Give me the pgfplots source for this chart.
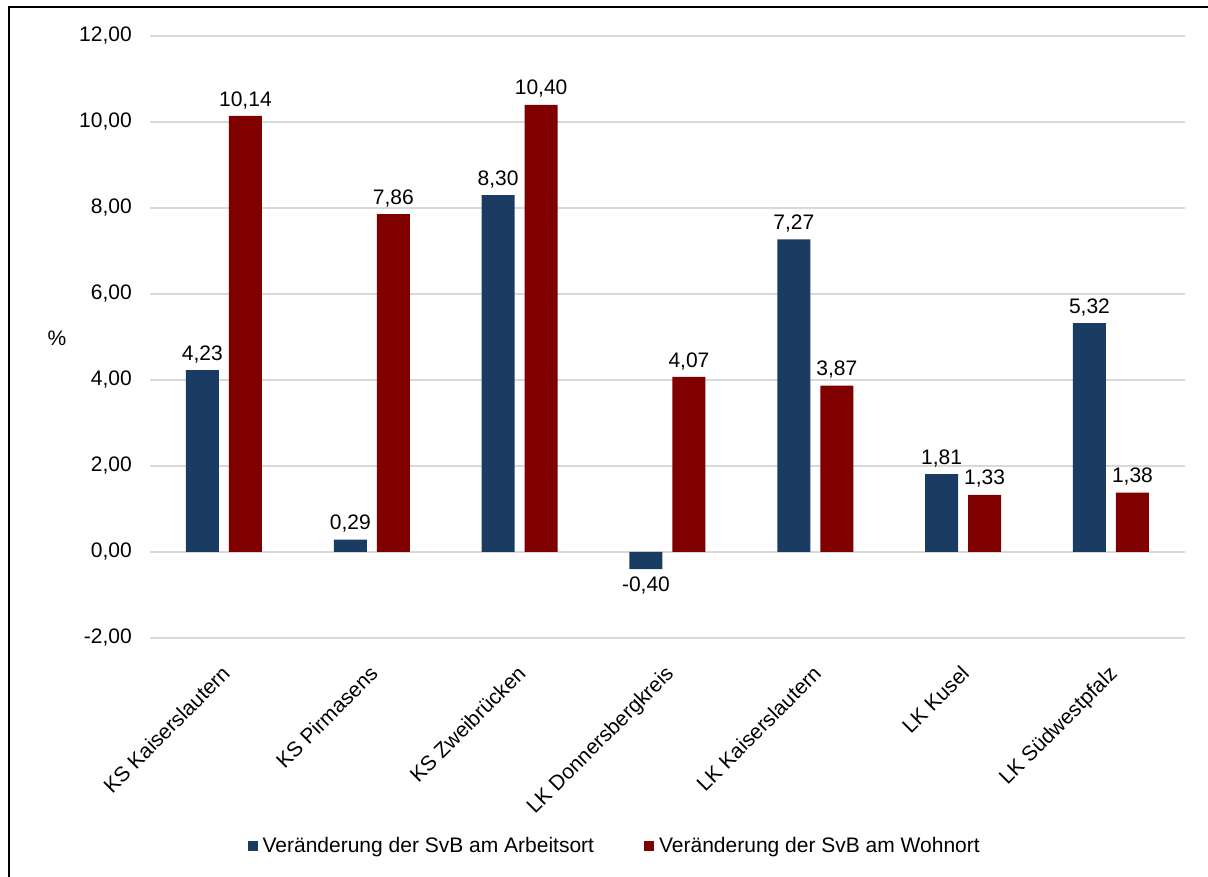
\documentclass[border=0pt]{standalone}
\usepackage{pgfplots}
\pgfplotsset{compat=1.18}
\usepackage{fontspec}
\setmainfont{Liberation Sans}
\definecolor{svbblue}{HTML}{1A3C63}
\definecolor{svbred}{HTML}{800000}
\definecolor{gridgray}{HTML}{D9D9D9}
\begin{document}
\fontsize{21}{25}\selectfont
\begin{tikzpicture}
\useasboundingbox (-150pt,-239pt) rectangle (1058pt,638pt);
\draw[line width=1.5pt] (-141pt,-239pt) -- (-141pt,631pt) -- (1058pt,631pt);
\begin{axis}[
  at={(0pt,0pt)}, anchor=south west,
  scale only axis,
  width=1035pt, height=602pt,
  ybar, bar width=33pt,
  xmin=-0.5, xmax=6.5,
  ymin=-2, ymax=12,
  ytick={-2,0,...,12},
  xtick={0,...,6},
  xticklabels={KS Kaiserslautern,KS Pirmasens,KS Zweibrücken,LK Donnersbergkreis,LK Kaiserslautern,LK Kusel,LK Südwestpfalz},
  xticklabel style={rotate=45, anchor=north east, yshift=-9pt, xshift=-14pt, font=\fontsize{21}{25}\selectfont},
  axis line style={draw=none},
  major tick length=0pt,
  ymajorgrids, grid style={gridgray, line width=1.3pt},
  /pgf/number format/assume math mode=true,
  yticklabel={\pgfmathprintnumber[fixed,fixed zerofill,precision=2,use comma]{\tick}},
  yticklabel style={xshift=-11pt, font=\fontsize{21}{25}\selectfont},
  ylabel={\%}, ylabel style={rotate=-90, at={(-93pt,300pt)}, anchor=center, font=\fontsize{21}{25}\selectfont},
  nodes near coords,
  nodes near coords style={font=\fontsize{21}{25}\selectfont, /pgf/number format/.cd, fixed, fixed zerofill, precision=2, use comma, assume math mode=true},
  legend columns=2,
  legend style={draw=none, at={(0.449,-0.3455)}, anchor=center, font=\fontsize{21}{25}\selectfont, /tikz/every even column/.append style={column sep=48pt}},
  legend image code/.code={\fill[#1] (0pt,-5pt) rectangle (10pt,5pt); \path (13pt,0pt);},
]
\addplot[fill=svbblue, draw=none, bar shift=-21.5pt] coordinates {
  (0,4.23) (1,0.29) (2,8.30) (3,-0.40) (4,7.27) (5,1.81) (6,5.32)
};
\addplot[fill=svbred, draw=none, bar shift=21.5pt] coordinates {
  (0,10.14) (1,7.86) (2,10.40) (3,4.07) (4,3.87) (5,1.33) (6,1.38)
};
\legend{Veränderung der SvB am Arbeitsort, Veränderung der SvB am Wohnort}
\end{axis}
\end{tikzpicture}
\end{document}
